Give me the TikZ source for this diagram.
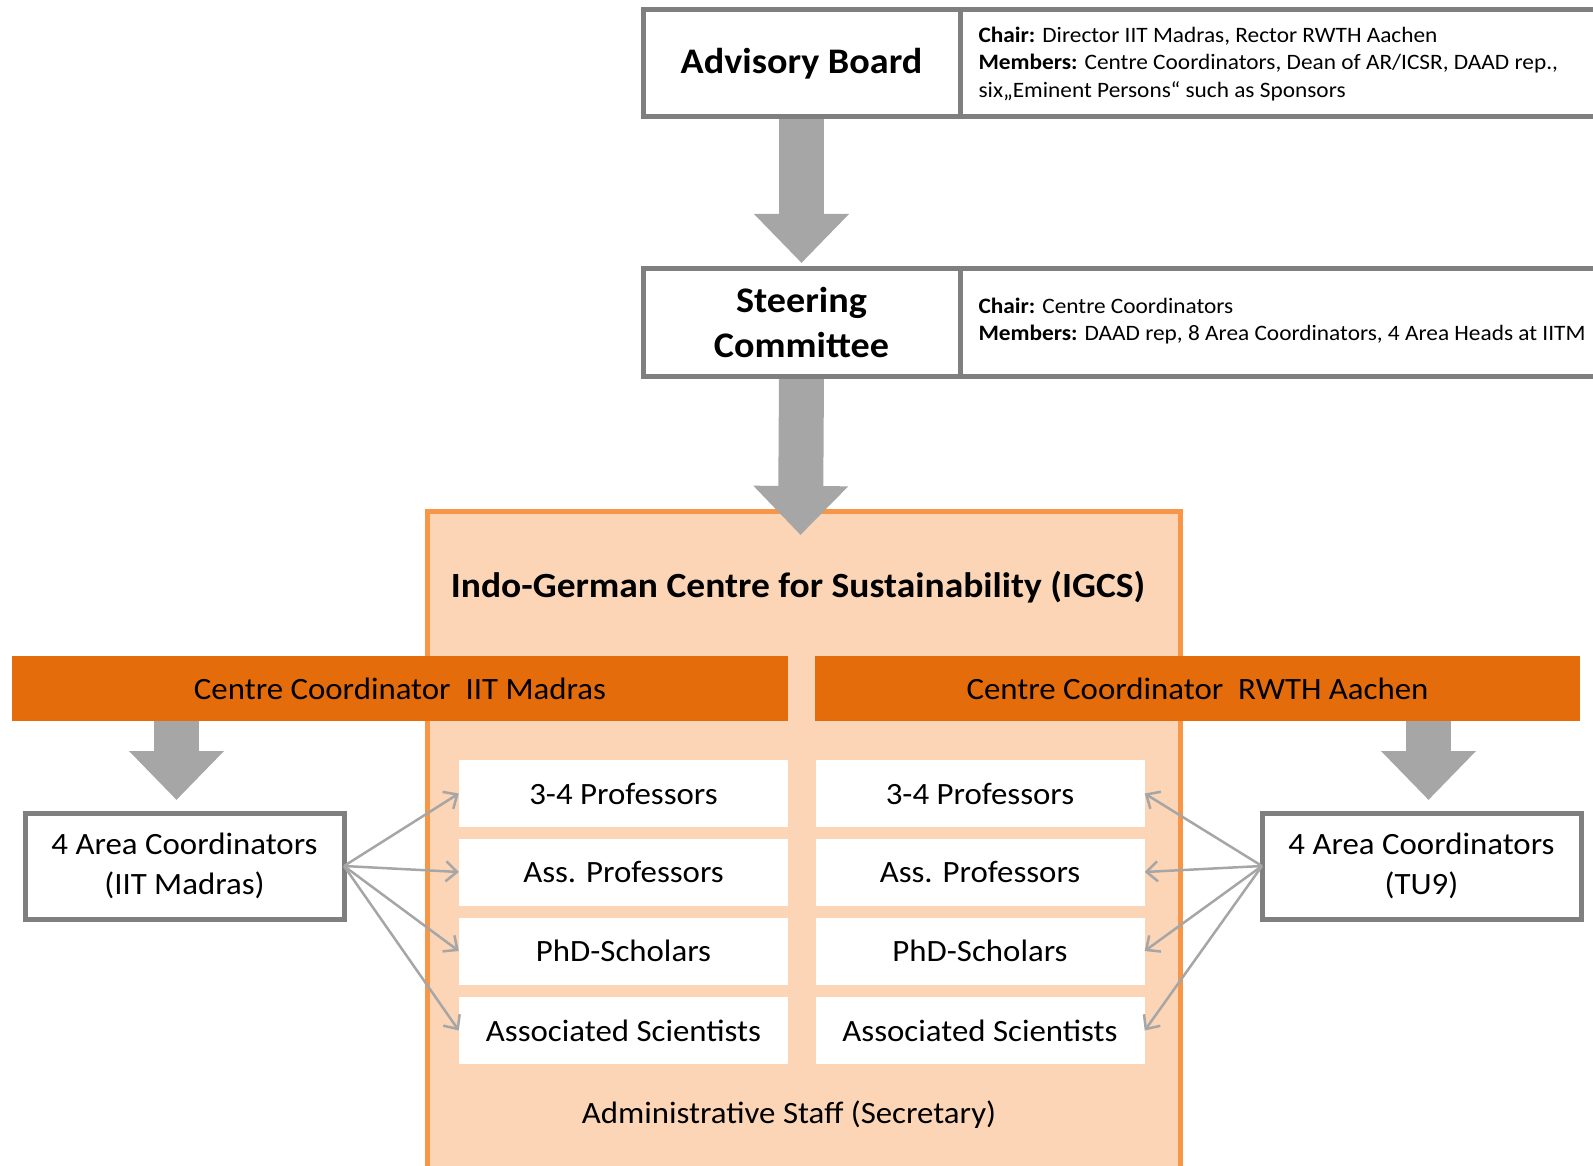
\documentclass[tikz,border=0pt]{standalone}
\usepackage{fontspec}
\setmainfont{Carlito}[FakeStretch=1.06]
\usetikzlibrary{arrows.meta,calc}
\definecolor{boxgray}{HTML}{7F7F7F}
\definecolor{arrgray}{HTML}{A6A6A6}
\definecolor{peach}{HTML}{FBD5B5}
\definecolor{peachline}{HTML}{F79646}
\definecolor{barorange}{HTML}{E46C0A}
\pgfdeclarelayer{back}
\pgfdeclarelayer{mid}
\pgfsetlayers{back,mid,main}
\begin{document}
\begin{tikzpicture}[x=1pt,y=-1pt,
  graybox/.style={draw=boxgray, line width=5pt, fill=white, inner sep=0pt, outer sep=0pt},
  titlefont/.style={font=\fontsize{36}{44.5}\selectfont\bfseries},
  infofont/.style={font=\fontsize{22}{27.8}\selectfont},
  midfont/.style={font=\fontsize{31}{40}\selectfont},
  whitebox/.style={fill=white, minimum width=329pt, minimum height=67pt, inner sep=0pt, midfont},
  barbox/.style={fill=barorange, minimum height=65pt, inner sep=0pt, midfont},
  blockarrow/.style={arrgray, line width=45pt, -{Triangle[length=49pt,width=92pt]}},
  thinarrow/.style={arrgray, line width=2.5pt, -{Straight Barb[length=11pt,width=20pt]}}
]
\useasboundingbox (0,0) rectangle (1593,1166);
\clip (0,0) rectangle (1593,1166);

% top boxes
\node[graybox, minimum width=317pt, minimum height=107pt, titlefont] (ab) at (801.5,63.5) {Advisory Board};
\node[graybox, minimum width=640pt, minimum height=107pt] (abi) at (1280,63.5) {};
\node[anchor=west, align=left, infofont] (abtxt) at (975,64)
  {\textbf{Chair:} Director IIT Madras, Rector RWTH Aachen\\
   \textbf{Members:} Centre Coordinators, Dean of AR/ICSR, DAAD rep.,\\
   six„Eminent Persons“ such as Sponsors};

\node[graybox, minimum width=317pt, minimum height=107pt, titlefont, align=center] (sc) at (801.5,322.5) {Steering\\Committee};
\node[graybox, minimum width=640pt, minimum height=107pt] (sci) at (1280,322.5) {};
\node[anchor=west, align=left, infofont] (sctxt) at (975,321)
  {\textbf{Chair:} Centre Coordinators\\
   \textbf{Members:} DAAD rep, 8 Area Coordinators, 4 Area Heads at IITM};

% IGCS box
\begin{pgfonlayer}{back}
\node[draw=peachline, fill=peach, line width=5pt, minimum width=753pt, minimum height=669pt, inner sep=0pt, outer sep=0pt] (igcs) at (803.5,845.5) {};
\end{pgfonlayer}
\node[font=\fontsize{35.4}{42}\selectfont\bfseries] (igcst) at (798,587) {Indo-German Centre for Sustainability (IGCS)};

% bars
\node[barbox, minimum width=776pt] (lbar) at (400,688.5) {Centre Coordinator\ \ IIT Madras};
\node[barbox, minimum width=765pt] (rbar) at (1197.5,688.5) {Centre Coordinator\ \ RWTH Aachen};

% area coordinators
\node[graybox, minimum width=319pt, minimum height=106pt, midfont, align=center] (lac) at (184.5,866) {4 Area Coordinators\\(IIT Madras)};
\node[graybox, minimum width=319pt, minimum height=106pt, midfont, align=center] (rac) at (1421.5,866) {4 Area Coordinators\\(TU9)};

% white boxes
\node[whitebox] (l1) at (623.5,793.5) {3-4 Professors};
\node[whitebox] (l2) at (623.5,872) {Ass. Professors};
\node[whitebox] (l3) at (623.5,951) {PhD-Scholars};
\node[whitebox] (l4) at (623.5,1030.5) {Associated Scientists};
\node[whitebox] (r1) at (980,793.5) {3-4 Professors};
\node[whitebox] (r2) at (980,872) {Ass. Professors};
\node[whitebox] (r3) at (980,951) {PhD-Scholars};
\node[whitebox] (r4) at (980,1030.5) {Associated Scientists};

\node[midfont] (admin) at (789,1115) {Administrative Staff (Secretary)};

% block arrows
\begin{pgfonlayer}{mid}
\draw[blockarrow] (ab.south) -- ($(sc.north)+(0,-6)$);
\draw[blockarrow] (sc.south) -- ($(igcs.north)+(-3,24)$);
\draw[blockarrow] ($(lbar.south -| lac.north)+(-8,0)$) -- ($(lac.north)+(-8,-13)$);
\draw[blockarrow] ($(rbar.south -| rac.north)+(7,0)$) -- ($(rac.north)+(7,-13)$);
\end{pgfonlayer}

% thin arrows
\foreach \t in {l1,l2,l3,l4} \draw[thinarrow] (lac.east) -- (\t.west);
\foreach \t in {r1,r2,r3,r4} \draw[thinarrow] (rac.west) -- (\t.east);
\end{tikzpicture}
\end{document}
